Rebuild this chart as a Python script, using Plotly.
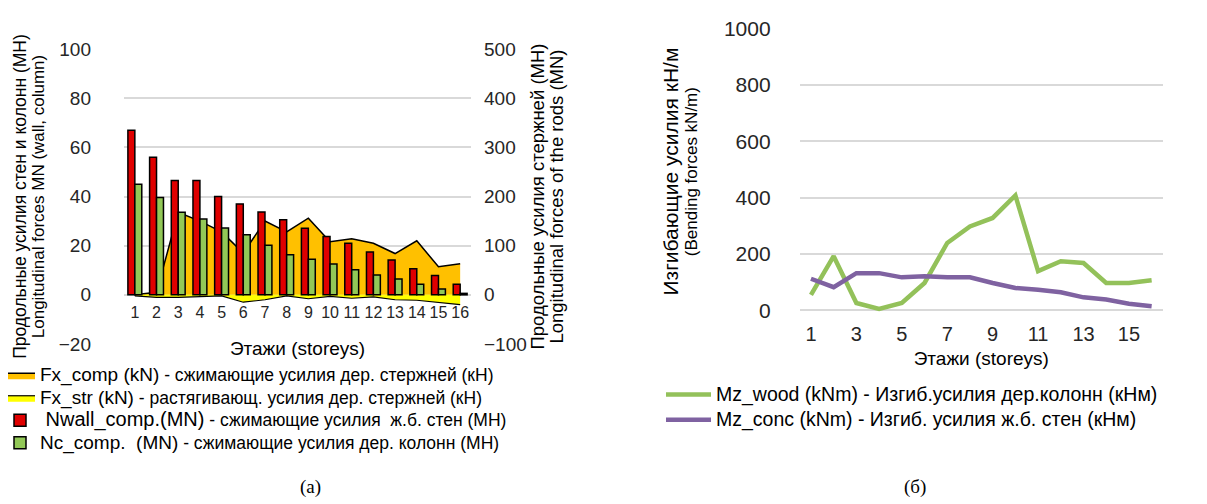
import plotly.graph_objects as go

# ---------------- data ----------------
storeys = list(range(1, 17))
nwall_comp = [67, 56, 46.5, 46.5, 40, 37, 33.7, 30.5, 27.1, 23.7, 21, 17.4, 14.2, 10.6, 7.9, 4.3]
nc_comp = [45, 39.6, 33.6, 30.8, 27.2, 24.4, 20.2, 16.3, 14.5, 12.5, 10.2, 8.1, 6.4, 4.3, 2.4, 0.6]
fx_comp = [0, 5, 168, 150, 128, 85, 150, 128, 156, 108, 114, 105, 84, 110, 57, 63]
fx_str = [-2, -5, -5, -3, -2, -15, -10, -2, -8, -3, -7, -4, -10, -11, -15, -20]
mz_wood = [55, 192, 26, 5, 26, 97, 239, 298, 328, 408, 139, 174, 168, 97, 97, 107]
mz_conc = [112, 82, 132, 132, 117, 121, 117, 117, 97, 79, 73, 64, 46, 38, 23, 14]

left_ticks = [-20, 0, 20, 40, 60, 80, 100]
right_ticks = [-100, 0, 100, 200, 300, 400, 500]
moment_ticks = [0, 200, 400, 600, 800, 1000]
odd_storeys = [1, 3, 5, 7, 9, 11, 13, 15]

FONT = "Liberation Sans, Arial, sans-serif"
W, H = 1207, 504

def px(x):
    return x / W

def py(y):
    return 1 - y / H

def two_size(big, small, big_px=19, small_px=17.5):
    return (f"<span style='font-size:{big_px}px'>{big}</span>"
            f"<span style='font-size:{small_px}px'>{small}</span>")

fig = go.Figure()

# ---- chart (a): areas on primary y (kN, right side) ----
fig.add_trace(go.Scatter(
    x=storeys, y=fx_comp, mode="lines", fill="tozeroy",
    fillcolor="#FFC000", line=dict(color="#000000", width=1.5),
    name=two_size("Fx_comp (kN)", " - сжимающие усилия дер. стержней (кН)"),
    xaxis="x", yaxis="y", legend="legend"))
fig.add_trace(go.Scatter(
    x=storeys, y=fx_str, mode="lines", fill="tozeroy",
    fillcolor="#FFFF00", line=dict(color="#000000", width=1.2),
    name=two_size("Fx_str (kN)", " - растягивающ. усилия дер. стержней (кН)"),
    xaxis="x", yaxis="y", legend="legend"))

# ---- chart (a): bars on overlay y2 (MN, left side) ----
fig.add_trace(go.Bar(
    x=storeys, y=nwall_comp, marker=dict(color="#E00000", line=dict(color="#000000", width=1.5)),
    name=two_size(" Nwall_comp.(MN)", " - сжимающие усилия  ж.б. стен (МН)", big_px=20),
    xaxis="x", yaxis="y2", legend="legend"))
fig.add_trace(go.Bar(
    x=storeys, y=nc_comp, marker=dict(color="#92C857", line=dict(color="#000000", width=1.5)),
    name=two_size("Nc_comp.  (MN)", " - сжимающие усилия дер. колонн (МН)"),
    xaxis="x", yaxis="y2", legend="legend"))

# ---- chart (б): lines ----
fig.add_trace(go.Scatter(
    x=storeys, y=mz_wood, mode="lines", line=dict(color="#93C15A", width=4.5),
    name="<span style='font-size:19.5px'>Mz_wood (kNm) - Изгиб.усилия дер.колонн (кНм)</span>",
    xaxis="x2", yaxis="y3", legend="legend2"))
fig.add_trace(go.Scatter(
    x=storeys, y=mz_conc, mode="lines", line=dict(color="#7F62A1", width=4.5),
    name="<span style='font-size:19.5px'>Mz_conc (kNm) - Изгиб. усилия ж.б. стен (кНм)</span>",
    xaxis="x2", yaxis="y3", legend="legend2"))

tickfont = dict(family=FONT, size=19, color="#262626")
titlefont = dict(family=FONT, size=19, color="#000000")

y3_lo = -15

fig.update_layout(
    width=W, height=H, template="none",
    paper_bgcolor="white", plot_bgcolor="rgba(0,0,0,0)",
    margin=dict(l=0, r=0, t=0, b=0),
    barmode="group", bargap=0.36, bargroupgap=0,
    font=dict(family=FONT, color="#000000"),
    xaxis=dict(
        domain=[px(116), px(463)], range=[0.5, 16.5], tickvals=storeys,
        anchor="free", position=py(287), showgrid=False, zeroline=False,
        showline=False, ticks="", ticklabelstandoff=6,
        tickfont=dict(family=FONT, size=16, color="#262626"),
        title=dict(text="Этажи (storeys)", font=titlefont, standoff=21)),
    yaxis=dict(
        domain=[py(336), py(41)], range=[-100, 500], tickvals=right_ticks,
        side="right", anchor="x", showgrid=True, gridcolor="#D9D9D9", gridwidth=1.5,
        zeroline=False, showline=False, ticks="", ticklabelstandoff=12,
        tickfont=tickfont,
        title=dict(text=("<span style='font-size:18.5px'>Продольные усилия стержней (МН)</span><br>"
                         "<span style='font-size:18.5px'>Longitudinal forces of the rods (MN)</span>"),
                   font=dict(family=FONT, size=14.5, color="#000000"), standoff=8)),
    yaxis2=dict(
        overlaying="y", side="left", anchor="x", range=[-20, 100], tickvals=left_ticks,
        showgrid=False, zeroline=False, showline=False, ticks="", ticklabelstandoff=32,
        tickfont=tickfont,
        title=dict(text=("<span style='font-size:17.5px'>Продольные усилия стен и колонн (МН)</span><br>"
                         "<span style='font-size:17px'>Longitudinal forces MN (wall, column)</span>"),
                   font=dict(family=FONT, size=14, color="#000000"), standoff=10)),
    xaxis2=dict(
        domain=[px(791.6), px(1155)], range=[0.5, 16.5], tickvals=odd_storeys,
        anchor="y3", showgrid=False, zeroline=False, showline=False, ticks="",
        ticklabelstandoff=5, tickfont=dict(family=FONT, size=20, color="#262626"),
        title=dict(text="Этажи (storeys)", font=titlefont, standoff=8)),
    yaxis3=dict(
        domain=[py(302.3 + 15 * 0.2816), py(20.7)], range=[y3_lo, 1000], tickvals=moment_ticks,
        anchor="x2", showgrid=True, gridcolor="#D9D9D9", gridwidth=1.5,
        zeroline=False, showline=False, ticks="", ticklabelstandoff=28,
        tickfont=dict(family=FONT, size=21, color="#262626"),
        title=dict(text=("<span style='font-size:21px'>Изгибающие усилия кН/м</span><br>"
                         "<span style='font-size:17px'>(Bending forces kN/m)</span>"),
                   font=dict(family=FONT, size=15, color="#000000"), standoff=22)),
    legend=dict(
        x=0, y=py(351), xanchor="left", yanchor="top", orientation="v",
        bgcolor="rgba(0,0,0,0)", borderwidth=0, traceorder="normal", indentation=-8,
        font=dict(family=FONT, size=15, color="#000000"), itemwidth=30),
    legend2=dict(
        x=px(653), y=py(369), xanchor="left", yanchor="top", orientation="v",
        bgcolor="rgba(0,0,0,0)", borderwidth=0, traceorder="normal",
        font=dict(family=FONT, size=17, color="#000000"), itemwidth=45),
    showlegend=True,
    annotations=[
        dict(text="(a)", x=px(290), y=py(492), xref="paper", yref="paper",
             showarrow=False, font=dict(family="Liberation Serif, Times New Roman, serif", size=19)),
        dict(text="(б)", x=px(920), y=py(492), xref="paper", yref="paper",
             showarrow=False, font=dict(family="Liberation Serif, Times New Roman, serif", size=19)),
    ],
)

fig.write_html("out.html")
